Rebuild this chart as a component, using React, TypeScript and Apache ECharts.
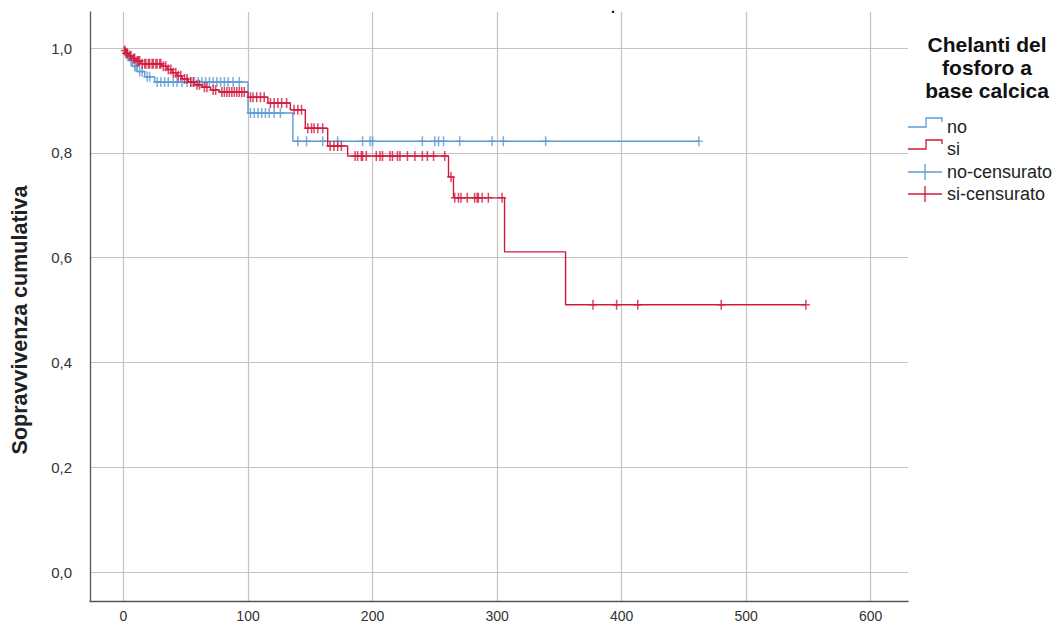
import React, { useEffect, useRef } from "react";
import * as echarts from "echarts";

// Axis ticks
const timeTicks = [0, 100, 200, 300, 400, 500, 600];
const survivalTicks = [0, 0.2, 0.4, 0.6, 0.8, 1.0];

// Legend title lines
const legendTitle = ["Chelanti del", "fosforo a", "base calcica"];

// Group "no": event times and cumulative survival after each event
const noEventTimes = [0, 2, 4, 7, 11, 17, 25, 100, 136];
const noSurvival = [1.0, 0.988, 0.976, 0.965, 0.955, 0.945, 0.935, 0.876, 0.822];
const noLastTime = 462;
const noCensored = [
  3, 6, 9, 10, 13, 15, 19, 21,
  27, 30, 33, 36, 40, 43, 47, 51, 54, 57, 60, 63, 66, 69, 72, 75, 78, 81, 84, 88, 93,
  102, 105, 108, 111, 114, 117, 121, 126,
  140, 147, 160, 172, 192, 198, 200, 240, 250, 253, 257, 270, 296, 305, 339, 462,
];

// Group "si"
const siEventTimes = [
  0, 1, 2, 4, 7, 10, 14, 31, 35, 39, 43, 47, 52, 57, 63, 70, 77,
  100, 116, 134, 146, 164, 180, 261, 265, 306, 355,
];
const siSurvival = [
  1.0, 0.995, 0.99, 0.985, 0.98, 0.975, 0.97, 0.965, 0.959, 0.953, 0.947, 0.941, 0.935, 0.93, 0.925, 0.92, 0.916,
  0.906, 0.895, 0.882, 0.847, 0.813, 0.794, 0.754, 0.714, 0.611, 0.51,
];
const siLastTime = 548;
const siCensored = [
  1, 2, 3, 5, 6, 8, 9, 11, 12, 13,
  15, 17, 18, 20, 21, 23, 24, 26, 27, 29, 30,
  32, 34, 36, 38, 40, 42, 44, 46, 49, 51, 54, 56, 59, 61, 65, 67, 72, 74,
  79, 81, 83, 85, 87, 89, 91, 93, 95, 97,
  102, 104, 107, 110, 113,
  118, 121, 124, 127, 131,
  137, 140, 143,
  148, 151, 153, 156, 160,
  166, 169, 172, 175,
  186, 188, 191, 192, 195, 203, 206, 208, 214, 216, 220, 222, 228, 234, 240, 244, 249, 258,
  263,
  266, 269, 271, 276, 282, 284, 285, 288, 293, 304,
  377, 396, 413, 480, 548,
];

const BLUE = "#5b9bd5";
const RED = "#cf1a3e";
const FONT = "'Liberation Sans', Arial, sans-serif";

// Plus-shaped marker for censored cases
const PLUS =
  "path://M-0.19,-1H0.19V-0.15H1V0.15H0.19V1H-0.19V0.15H-1V-0.15H-0.19Z";

function stepData(times: number[], surv: number[], last: number) {
  const pts = times.map((t, i) => [t, surv[i]]);
  pts.push([last, surv[surv.length - 1]]);
  return pts;
}

function levelAt(times: number[], surv: number[], t: number) {
  let s = surv[0];
  for (let i = 0; i < times.length; i++) {
    if (times[i] <= t) s = surv[i];
  }
  return s;
}

function censorData(times: number[], surv: number[], cens: number[]) {
  return cens.map((t) => [t, levelAt(times, surv, t)]);
}

const fmt = (v: number) => v.toFixed(1).replace(".", ",");

export default function App() {
  const ref = useRef<HTMLDivElement>(null);

  useEffect(() => {
    if (!ref.current) return;
    const chart = echarts.init(ref.current, null, { renderer: "svg" });

    const legendItem = (y: number, color: string, label: string, censor: boolean) => {
      const els: any[] = [];
      if (censor) {
        els.push({
          type: "line",
          shape: { x1: 908, y1: y, x2: 942, y2: y },
          style: { stroke: color, lineWidth: 1.3 },
        });
        els.push({
          type: "line",
          shape: { x1: 925, y1: y - 8, x2: 925, y2: y + 8 },
          style: { stroke: color, lineWidth: 1.3 },
        });
      } else {
        els.push({
          type: "polyline",
          shape: { points: [[908, y], [926, y], [926, y - 9], [942, y - 9], [942, y - 5]] },
          style: { stroke: color, fill: null, lineWidth: 1.3 },
        });
      }
      els.push({
        type: "text",
        x: 947,
        y: y,
        style: { text: label, font: `18px ${FONT}`, fill: "#222", textVerticalAlign: "middle" },
      });
      return els;
    };

    chart.setOption({
      animation: false,
      backgroundColor: "#ffffff",
      grid: { left: 90, right: 152, top: 12, bottom: 25, containLabel: false },
      xAxis: {
        type: "value",
        min: -26.9,
        max: 630,
        axisLine: { show: true, onZero: false, lineStyle: { color: "#555", width: 1.3 } },
        axisTick: { show: false, customValues: timeTicks },
        axisLabel: {
          customValues: timeTicks,
          fontFamily: FONT,
          fontSize: 14,
          color: "#333",
          margin: 8,
        },
        splitLine: { show: true, lineStyle: { color: "#c4c4c4", width: 1.2 } },
      },
      yAxis: {
        type: "value",
        min: -0.0553,
        max: 1.0687,
        axisLine: { show: true, onZero: false, lineStyle: { color: "#555", width: 1.3 } },
        axisTick: { show: false, customValues: survivalTicks },
        axisLabel: {
          customValues: survivalTicks,
          formatter: fmt,
          fontFamily: FONT,
          fontSize: 15,
          color: "#333",
          margin: 18,
        },
        splitLine: { show: true, lineStyle: { color: "#c4c4c4", width: 1.2 } },
      },
      graphic: [
        {
          type: "text",
          x: 613,
          y: 15,
          style: { text: ".", font: `bold 14px ${FONT}`, fill: "#000", textAlign: "center", textVerticalAlign: "bottom" },
        },
        {
          type: "text",
          x: 20,
          y: 320,
          rotation: Math.PI / 2,
          style: {
            text: "Sopravvivenza cumulativa",
            font: `bold 21.5px ${FONT}`,
            fill: "#222",
            textAlign: "center",
            textVerticalAlign: "middle",
          },
        },
        ...legendTitle.map((line, i) => ({
          type: "text",
          x: 987,
          y: 44 + i * 23,
          style: {
            text: line,
            font: `bold 21px ${FONT}`,
            fill: "#111",
            textAlign: "center",
            textVerticalAlign: "middle",
          },
        })),
        ...legendItem(127, BLUE, "no", false),
        ...legendItem(149, RED, "si", false),
        ...legendItem(172, BLUE, "no-censurato", true),
        ...legendItem(194, RED, "si-censurato", true),
      ],
      series: [
        {
          name: "no",
          type: "line",
          step: "end",
          data: stepData(noEventTimes, noSurvival, noLastTime),
          showSymbol: false,
          lineStyle: { color: BLUE, width: 1.4 },
          itemStyle: { color: BLUE },
          z: 2,
        },
        {
          name: "no-censurato",
          type: "scatter",
          data: censorData(noEventTimes, noSurvival, noCensored),
          symbol: PLUS,
          symbolSize: [8, 10],
          itemStyle: { color: BLUE },
          z: 3,
        },
        {
          name: "si",
          type: "line",
          step: "end",
          data: stepData(siEventTimes, siSurvival, siLastTime),
          showSymbol: false,
          lineStyle: { color: RED, width: 1.4 },
          itemStyle: { color: RED },
          z: 4,
        },
        {
          name: "si-censurato",
          type: "scatter",
          data: censorData(siEventTimes, siSurvival, siCensored),
          symbol: PLUS,
          symbolSize: [8, 10],
          itemStyle: { color: RED },
          z: 5,
        },
      ],
    });

    return () => chart.dispose();
  }, []);

  return <div ref={ref} style={{ width: 1060, height: 626, position: "absolute", left: 0, top: 0 }} />;
}
